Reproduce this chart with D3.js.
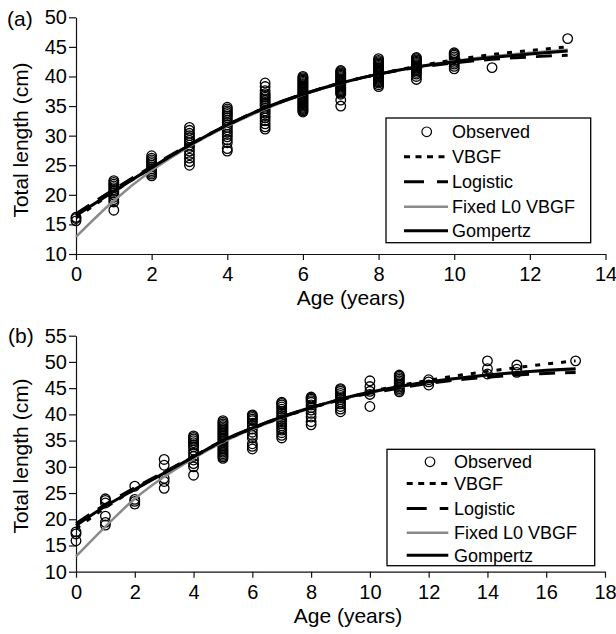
<!DOCTYPE html>
<html><head><meta charset="utf-8">
<script src="https://cdn.jsdelivr.net/npm/d3@7/dist/d3.min.js"></script>
<style>
body{margin:0;background:#fff}
text{font-family:"Liberation Sans",Arial,Helvetica,sans-serif;fill:#000}
</style>
</head><body>
<svg id="chart" width="616" height="634"></svg>
<script>
// ---------------- DATA ----------------
const seriesNames = ["Observed", "VBGF", "Logistic", "Fixed L0 VBGF", "Gompertz"];

// Panel (a)
const xTicksA = [0, 2, 4, 6, 8, 10, 12, 14];
const yTicksA = [10, 15, 20, 25, 30, 35, 40, 45, 50];
const obsAgesA = [0, 1, 2, 3, 4, 5, 6, 7, 8, 9, 10, 11, 13];
const obsLenA = [
  [15.6, 16.0, 16.2],
  [17.4, 18.8, 19.2, 19.6, 20.0, 20.3, 20.6, 20.9, 21.2, 21.5, 21.8, 22.1, 22.4],
  [23.2, 23.5, 23.8, 24.1, 24.4, 24.7, 25.0, 25.3, 25.6, 25.9, 26.2, 26.6],
  [25.0, 25.6, 26.2, 26.8, 27.4, 28.0, 28.4, 28.8, 29.2, 29.6, 30.0, 30.4, 30.9, 31.4],
  [27.4, 27.8, 28.8, 29.3, 29.8, 30.2, 30.6, 31.0, 31.4, 31.8, 32.2, 32.6, 33.0, 33.3, 33.6, 33.9, 34.2, 34.5, 34.8],
  [31.1, 31.5, 32.0, 32.5, 33.0, 33.4, 33.8, 34.2, 34.6, 35.0, 35.3, 35.6, 35.9, 36.2, 36.5, 36.8, 37.1, 37.6, 38.3, 38.9],
  [34.0, 34.2, 34.4, 34.6, 34.8, 35.0, 35.2, 35.4, 35.6, 35.8, 36.0, 36.2, 36.4, 36.6, 36.8, 37.0, 37.2, 37.4, 37.6, 37.8, 38.0, 38.2, 38.4, 38.6, 38.8, 39.0, 39.2, 39.4, 39.6, 39.8, 40.0],
  [35.0, 36.0, 37.0, 37.2, 37.4, 37.6, 37.8, 38.0, 38.2, 38.4, 38.6, 38.8, 39.0, 39.2, 39.4, 39.6, 39.8, 40.0, 40.2, 40.4, 40.6, 40.8, 41.0],
  [38.3, 38.6, 38.9, 39.1, 39.3, 39.5, 39.7, 39.9, 40.1, 40.3, 40.5, 40.7, 40.9, 41.1, 41.3, 41.5, 41.7, 41.9, 42.1, 42.3, 42.5, 42.7, 43.0],
  [39.5, 40.0, 40.4, 40.7, 41.0, 41.2, 41.4, 41.6, 41.8, 42.0, 42.2, 42.4, 42.6, 42.8, 43.0, 43.2],
  [41.3, 41.7, 42.1, 42.4, 42.7, 43.0, 43.3, 43.6, 43.8, 44.0],
  [41.5],
  [46.4]
];
const curveAgesA = [0, 1, 2, 3, 4, 5, 6, 7, 8, 9, 10, 11, 12, 13];
const vbgfA     = [16.1, 20.5, 24.6, 28.4, 31.8, 34.7, 37.0, 38.9, 40.4, 41.7, 42.8, 43.7, 44.4, 45.0];
const logisticA = [16.8, 20.9, 24.8, 28.5, 31.8, 34.7, 37.0, 38.9, 40.4, 41.5, 42.3, 42.9, 43.3, 43.6];
const fixedA    = [12.9, 19.0, 24.1, 28.2, 31.6, 34.5, 36.9, 38.8, 40.4, 41.6, 42.6, 43.4, 44.0, 44.5];
const gompertzA = [16.5, 20.6, 24.6, 28.4, 31.8, 34.7, 37.0, 38.9, 40.4, 41.6, 42.5, 43.2, 43.8, 44.3];

// Panel (b)
const xTicksB = [0, 2, 4, 6, 8, 10, 12, 14, 16, 18];
const yTicksB = [10, 15, 20, 25, 30, 35, 40, 45, 50, 55];
const obsAgesB = [0, 1, 2, 3, 4, 5, 6, 7, 8, 9, 10, 11, 12, 14, 15, 17];
const obsLenB = [
  [15.9, 17.2, 17.6],
  [18.9, 19.4, 20.6, 23.1, 23.6, 23.9],
  [22.9, 23.4, 23.8, 26.3],
  [25.9, 27.2, 27.8, 30.3, 31.4],
  [28.4, 30.0, 30.6, 31.3, 32.0, 32.6, 33.2, 33.8, 34.2, 34.6, 35.0, 35.3, 35.6, 35.9],
  [31.6, 31.9, 32.2, 32.5, 32.8, 33.1, 33.4, 33.7, 34.0, 34.3, 34.6, 34.9, 35.2, 35.5, 35.8, 36.1, 36.4, 36.7, 37.0, 37.3, 37.6, 37.9, 38.2, 38.5, 38.8],
  [33.4, 33.9, 34.4, 35.5, 36.0, 36.6, 37.2, 37.8, 38.3, 38.8, 39.1, 39.4, 39.7, 39.9],
  [35.5, 36.0, 36.5, 37.0, 37.4, 37.8, 38.2, 38.6, 39.0, 39.4, 39.8, 40.2, 40.6, 41.0, 41.4, 41.8, 42.1, 42.3],
  [38.0, 38.6, 39.5, 40.2, 40.8, 41.3, 41.8, 42.3, 42.6, 42.9, 43.1, 43.3],
  [40.5, 41.0, 41.5, 42.0, 42.4, 42.8, 43.2, 43.6, 44.0, 44.4, 44.7, 44.9],
  [41.5, 43.8, 44.4, 45.3, 46.4],
  [44.3, 44.6, 44.9, 45.2, 45.5, 45.8, 46.1, 46.4, 46.7, 47.0, 47.3, 47.5],
  [45.6, 46.2, 46.6],
  [47.7, 48.7, 50.2],
  [48.0, 48.6, 49.4],
  [50.2]
];
const curveAgesB = [0, 1, 2, 3, 4, 5, 6, 7, 8, 9, 10, 11, 12, 13, 14, 15, 16, 17];
const vbgfB     = [18.2, 22.2, 25.7, 28.9, 31.9, 34.9, 37.3, 39.4, 41.2, 42.8, 44.3, 45.5, 46.5, 47.4, 48.2, 48.9, 49.6, 50.2];
const logisticB = [19.2, 22.8, 26.0, 29.0, 32.0, 35.0, 37.4, 39.5, 41.3, 42.8, 44.0, 45.0, 45.9, 46.6, 47.1, 47.5, 47.8, 48.0];
const fixedB    = [12.9, 18.6, 23.9, 28.1, 31.6, 34.7, 37.2, 39.3, 41.2, 42.8, 44.1, 45.2, 46.1, 46.9, 47.5, 48.0, 48.3, 48.5];
const gompertzB = [18.8, 22.5, 25.7, 28.8, 31.9, 35.0, 37.4, 39.5, 41.3, 42.9, 44.2, 45.3, 46.2, 46.9, 47.5, 48.0, 48.4, 48.7];

// ---------------- STYLES ----------------
const lineStyle = {
  "VBGF":          {color: "#000", width: 3,   dash: "5,8",   legDash: "6,5.5"},
  "Logistic":      {color: "#000", width: 3,   dash: "16,10", legDash: "20,13"},
  "Fixed L0 VBGF": {color: "#8a8a8a", width: 2.5, dash: null, legDash: null},
  "Gompertz":      {color: "#000", width: 3,   dash: null,    legDash: null}
};
const drawOrder = ["Fixed L0 VBGF", "Gompertz", "Logistic", "VBGF"];

const svg = d3.select("#chart");

function panel(cfg) {
  const x = d3.scaleLinear().domain(cfg.xDomain).range(cfg.xRange);
  const y = d3.scaleLinear().domain(cfg.yDomain).range(cfg.yRange);
  const g = svg.append("g");

  // axes
  const ya = g.append("g").attr("transform", `translate(${cfg.xRange[0]},0)`)
    .call(d3.axisLeft(y).tickValues(cfg.yTicks).tickSize(7).tickPadding(2).tickSizeOuter(0));
  const xa = g.append("g").attr("transform", `translate(0,${cfg.yRange[0]})`)
    .call(d3.axisBottom(x).tickValues(cfg.xTicks).tickSize(6).tickPadding(7).tickSizeOuter(0));
  [ya, xa].forEach(a => {
    a.attr("font-size", null).attr("font-family", null);
    a.selectAll("text").style("font-size", "20px");
    a.selectAll("path,line").attr("stroke", "#111").attr("stroke-width", 1.2);
  });

  // observed
  const pts = [];
  cfg.obsAges.forEach((a, i) => cfg.obsLen[i].forEach(v => pts.push([a, v])));
  g.append("g").selectAll("circle").data(pts).join("circle")
    .attr("cx", d => x(d[0])).attr("cy", d => y(d[1])).attr("r", 4.8)
    .attr("fill", "none").attr("stroke", "#000").attr("stroke-width", 1.3);

  // curves
  const line = d3.line().x(d => x(d[0])).y(d => y(d[1])).curve(d3.curveMonotoneX);
  drawOrder.forEach(name => {
    const st = lineStyle[name];
    const data = cfg.curveAges.map((a, i) => [a, cfg.curves[name][i]]);
    g.append("path").datum(data).attr("d", line)
      .attr("fill", "none").attr("stroke", st.color).attr("stroke-width", st.width)
      .attr("stroke-dasharray", st.dash);
  });

  // labels
  g.append("text").attr("x", cfg.panelLabel[1]).attr("y", cfg.panelLabel[2])
    .style("font-size", "21px").text(cfg.panelLabel[0]);
  g.append("text").attr("transform", `translate(${cfg.yTitle[0]},${cfg.yTitle[1]}) rotate(-90)`)
    .attr("text-anchor", "middle").style("font-size", "21px").text("Total length (cm)");
  g.append("text").attr("x", cfg.xTitle[0]).attr("y", cfg.xTitle[1])
    .attr("text-anchor", "middle").style("font-size", "21px").text("Age (years)");

  // legend
  const L = cfg.legend;
  g.append("rect").attr("x", L.x0).attr("y", L.y0).attr("width", L.x1 - L.x0).attr("height", L.y1 - L.y0)
    .attr("fill", "#fff").attr("stroke", "#000").attr("stroke-width", 1.3);
  seriesNames.forEach((name, i) => {
    const by = L.base[i];
    g.append("text").attr("x", L.tx).attr("y", by).style("font-size", "18px").text(name);
    const cy = by - 6.5;
    if (name === "Observed") {
      g.append("circle").attr("cx", L.cx).attr("cy", cy).attr("r", 4.8)
        .attr("fill", "none").attr("stroke", "#000").attr("stroke-width", 1.2);
    } else {
      const st = lineStyle[name];
      g.append("line").attr("x1", L.lx0).attr("x2", L.lx1).attr("y1", cy).attr("y2", cy)
        .attr("stroke", st.color).attr("stroke-width", st.width).attr("stroke-dasharray", st.legDash);
    }
  });
}

panel({
  xDomain: [0, 14], xRange: [76, 605.5],
  yDomain: [10, 50], yRange: [254, 17.3],
  xTicks: xTicksA, yTicks: yTicksA,
  obsAges: obsAgesA, obsLen: obsLenA,
  curveAges: curveAgesA,
  curves: {"VBGF": vbgfA, "Logistic": logisticA, "Fixed L0 VBGF": fixedA, "Gompertz": gompertzA},
  panelLabel: ["(a)", 7, 26],
  yTitle: [28, 140], xTitle: [351, 305],
  legend: {x0: 386, x1: 590.7, y0: 118, y1: 242.7, tx: 452, cx: 426.7, lx0: 404, lx1: 448,
           base: [138.3, 163.3, 188.3, 213.3, 237.3]}
});

panel({
  xDomain: [0, 18], xRange: [76, 605],
  yDomain: [10, 55], yRange: [571.7, 335.7],
  xTicks: xTicksB, yTicks: yTicksB,
  obsAges: obsAgesB, obsLen: obsLenB,
  curveAges: curveAgesB,
  curves: {"VBGF": vbgfB, "Logistic": logisticB, "Fixed L0 VBGF": fixedB, "Gompertz": gompertzB},
  panelLabel: ["(b)", 8, 343],
  yTitle: [28, 456], xTitle: [348, 623],
  legend: {x0: 387, x1: 594.7, y0: 449.3, y1: 565.7, tx: 454, cx: 430, lx0: 406.7, lx1: 448.3,
           base: [468.3, 490, 515, 539.3, 561.7]}
});
</script>
</body></html>
